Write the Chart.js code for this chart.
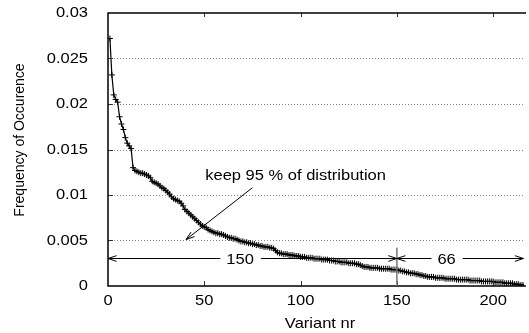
<!DOCTYPE html>
<html>
<head>
<meta charset="utf-8">
<script src="https://cdn.jsdelivr.net/npm/chart.js@4/dist/chart.umd.min.js"></script>
<style>
  html, body { margin: 0; padding: 0; background: #fff; }
  #wrap { width: 529px; height: 333px; }
</style>
</head>
<body>
<div id="wrap"><canvas id="c" width="529" height="333"></canvas></div>
<script>
// frequency of each variant, sorted (variant 1 .. 216)
const freq = [
  0.0272, 0.0232, 0.0210, 0.0205, 0.0202, 0.0186, 0.0178, 0.0172, 0.0163, 0.0157,
  0.0154, 0.0151, 0.0130, 0.0127, 0.0126, 0.0125, 0.0124, 0.0124, 0.0123, 0.0122,
  0.0121, 0.0119, 0.0115, 0.0114, 0.0113, 0.0112, 0.0110, 0.0108, 0.0107, 0.0105,
  0.0103, 0.0101, 0.0098, 0.0096, 0.0095, 0.0094, 0.0093, 0.0091, 0.0088, 0.0084,
  0.0082, 0.0080, 0.0078, 0.0076, 0.0074, 0.0072, 0.0070, 0.0068, 0.0066, 0.0065,
  0.0064, 0.0062, 0.0061, 0.0060, 0.0059, 0.0058, 0.0058, 0.0057, 0.0057, 0.0056,
  0.0055, 0.0054, 0.0053, 0.0053, 0.0052, 0.0052, 0.0051, 0.0050, 0.0049, 0.0049,
  0.0048, 0.0048, 0.0047, 0.0047, 0.0046, 0.0046, 0.0045, 0.0045, 0.0044, 0.0044,
  0.0043, 0.0043, 0.0043, 0.0042, 0.0042, 0.0041, 0.0039, 0.0037, 0.0036, 0.0036,
  0.0035, 0.0035, 0.0035, 0.0034, 0.0034, 0.0034, 0.0033, 0.0033, 0.0033, 0.0032,
  0.0032, 0.0032, 0.0031, 0.0031, 0.0031, 0.0031, 0.0030, 0.0030, 0.0030, 0.0030,
  0.0029, 0.0029, 0.0029, 0.0029, 0.0028, 0.0028, 0.0028, 0.0027, 0.0027, 0.0027,
  0.0026, 0.0026, 0.0026, 0.0026, 0.0025, 0.0025, 0.0025, 0.0025, 0.0024, 0.0024,
  0.0023, 0.0022, 0.0021, 0.0021, 0.0021, 0.0020, 0.0020, 0.0020, 0.0020, 0.0020,
  0.0019, 0.0019, 0.0019, 0.0019, 0.0019, 0.0019, 0.0018, 0.0018, 0.0018, 0.0018,
  0.0017, 0.0017, 0.0016, 0.0016, 0.0015, 0.0015, 0.0014, 0.0014, 0.0014, 0.0013,
  0.0013, 0.0012, 0.0012, 0.0011, 0.0011, 0.0010, 0.0010, 0.0010, 0.0010, 0.0009,
  0.0009, 0.0009, 0.0009, 0.0009, 0.0008, 0.0008, 0.0008, 0.0008, 0.0008, 0.0008,
  0.0007, 0.0007, 0.0007, 0.0007, 0.0007, 0.0007, 0.0007, 0.0006, 0.0006, 0.0006,
  0.0006, 0.0006, 0.0006, 0.0005, 0.0005, 0.0005, 0.0005, 0.0005, 0.0005, 0.0005,
  0.0004, 0.0004, 0.0004, 0.0004, 0.0004, 0.0003, 0.0003, 0.0003, 0.0003, 0.0003,
  0.0002, 0.0002, 0.0002, 0.0001, 0.0001, 0.0001
];
const variantNr = freq.map((_, i) => i + 1);

const xTicks = [0, 50, 100, 150, 200];
const xTickLabels = ['0', '50', '100', '150', '200'];
const yTicks = [0, 0.005, 0.01, 0.015, 0.02, 0.025, 0.03];
const yTickLabels = ['0', '0.005', '0.01', '0.015', '0.02', '0.025', '0.03'];

const cutoff = 150;      // variants kept
const rest = 66;         // variants dropped
const FONT = '15px "Liberation Sans", Arial, Helvetica, sans-serif';
const SX = 1.1;          // the original figure is stretched sideways a little

function arrowHead(ctx, x0, y0, x1, y1) {
  const ang = Math.atan2(y1 - y0, x1 - x0);
  const len = 9, spread = 0.32;
  ctx.beginPath();
  ctx.moveTo(x1 - len * Math.cos(ang - spread), y1 - len * Math.sin(ang - spread));
  ctx.lineTo(x1, y1);
  ctx.lineTo(x1 - len * Math.cos(ang + spread), y1 - len * Math.sin(ang + spread));
  ctx.stroke();
}

// horizontal text, widened like the source picture
function wideText(ctx, text, x, y, align) {
  ctx.save();
  ctx.translate(x, y);
  ctx.scale(SX, 1);
  ctx.textAlign = align;
  ctx.fillText(text, 0, 0);
  ctx.restore();
}

const overlay = {
  id: 'overlay',
  beforeDatasetsDraw(chart) {
    const { ctx, chartArea: a, scales: { y } } = chart;
    ctx.save();
    ctx.strokeStyle = '#8a8a8a';
    ctx.lineWidth = 1;
    ctx.setLineDash([1, 2]);
    yTicks.slice(1, -1).forEach(v => {
      const py = Math.round(y.getPixelForValue(v)) + 0.5;
      ctx.beginPath();
      ctx.moveTo(a.left, py);
      ctx.lineTo(a.right, py);
      ctx.stroke();
    });
    ctx.restore();
  },
  afterDraw(chart) {
    const { ctx, chartArea: a, scales: { x, y } } = chart;
    ctx.save();

    // inward tick marks
    ctx.strokeStyle = '#333';
    ctx.lineWidth = 1;
    yTicks.slice(1, -1).forEach(v => {
      const py = Math.round(y.getPixelForValue(v)) + 0.5;
      ctx.beginPath(); ctx.moveTo(a.left, py); ctx.lineTo(a.left + 5, py); ctx.stroke();
    });
    xTicks.slice(1).forEach(v => {
      const px = Math.round(x.getPixelForValue(v)) + 0.5;
      ctx.beginPath(); ctx.moveTo(px, a.bottom); ctx.lineTo(px, a.bottom - 5); ctx.stroke();
      ctx.beginPath(); ctx.moveTo(px, a.top); ctx.lineTo(px, a.top + 4); ctx.stroke();
    });

    // frame
    ctx.strokeStyle = '#000';
    ctx.lineWidth = 1.5;
    ctx.beginPath();
    ctx.moveTo(a.right + 2, a.top);
    ctx.lineTo(a.left, a.top);
    ctx.lineTo(a.left, a.bottom);
    ctx.lineTo(a.right + 2, a.bottom);
    ctx.stroke();

    // cut-off marker
    const xc = x.getPixelForValue(cutoff);
    ctx.strokeStyle = '#777';
    ctx.lineWidth = 1.5;
    ctx.beginPath();
    ctx.moveTo(xc, y.getPixelForValue(0));
    ctx.lineTo(xc, y.getPixelForValue(0.0042));
    ctx.stroke();

    ctx.font = FONT;
    ctx.fillStyle = '#000';
    ctx.strokeStyle = '#000';
    ctx.lineWidth = 1;
    ctx.textBaseline = 'middle';

    // tick labels and x title
    yTicks.forEach((v, i) => wideText(ctx, yTickLabels[i], a.left - 20, y.getPixelForValue(v), 'right'));
    xTicks.forEach((v, i) => wideText(ctx, xTickLabels[i], x.getPixelForValue(v), a.bottom + 15, 'center'));
    wideText(ctx, 'Variant nr', 320, a.bottom + 38, 'center');

    // "keep 95 %" label and arrow
    wideText(ctx, 'keep 95 % of distribution', x.getPixelForValue(50.5), y.getPixelForValue(0.0121), 'left');
    const ax0 = x.getPixelForValue(75), ay0 = y.getPixelForValue(0.0108);
    const ax1 = x.getPixelForValue(40.5), ay1 = y.getPixelForValue(0.0051);
    ctx.beginPath(); ctx.moveTo(ax0, ay0); ctx.lineTo(ax1, ay1); ctx.stroke();
    arrowHead(ctx, ax0, ay0, ax1, ay1);

    // span arrows with counts
    const yr = Math.round(y.getPixelForValue(0.0031)) + 0.5;
    function span(v0, v1, vText, label) {
      const p0 = x.getPixelForValue(v0), p1 = x.getPixelForValue(v1);
      const pt = x.getPixelForValue(vText);
      const w = ctx.measureText(label).width * SX;
      ctx.beginPath(); ctx.moveTo(p0, yr); ctx.lineTo(pt - w / 2 - 6, yr); ctx.stroke();
      ctx.beginPath(); ctx.moveTo(pt + w / 2 + 7, yr); ctx.lineTo(p1, yr); ctx.stroke();
      arrowHead(ctx, p1, yr, p0, yr);
      arrowHead(ctx, p0, yr, p1, yr);
      wideText(ctx, label, pt, yr + 1, 'center');
    }
    span(0, cutoff, 68.6, String(cutoff));
    span(cutoff, cutoff + rest - 0.3, 175.8, String(rest));

    // y axis title
    ctx.font = '14px "Liberation Sans", Arial, Helvetica, sans-serif';
    ctx.save();
    ctx.translate(20, 140);
    ctx.rotate(-Math.PI / 2);
    ctx.scale(1, SX);
    ctx.textAlign = 'center';
    ctx.fillText('Frequency of Occurence', 0, 0);
    ctx.restore();

    ctx.restore();
  }
};

new Chart(document.getElementById('c'), {
  type: 'line',
  data: {
    datasets: [{
      data: freq.map((f, i) => ({ x: variantNr[i], y: f })),
      borderColor: '#000',
      borderWidth: 1.2,
      pointStyle: 'cross',
      pointRadius: 3,
      pointBorderWidth: 1,
      pointBorderColor: '#000',
      tension: 0,
      fill: false
    }]
  },
  options: {
    responsive: false,
    animation: false,
    devicePixelRatio: 1,
    layout: { padding: { top: 13, left: 0, right: 0, bottom: 0 } },
    plugins: { legend: { display: false }, tooltip: { enabled: false } },
    scales: {
      x: {
        type: 'linear',
        min: 0,
        max: 216,
        afterBuildTicks: s => { s.ticks = xTicks.map(v => ({ value: v })); },
        afterFit: s => { s.height = 47; },
        grid: { display: false },
        border: { display: false },
        ticks: { display: false }
      },
      y: {
        min: 0,
        max: 0.03,
        afterBuildTicks: s => { s.ticks = yTicks.map(v => ({ value: v })); },
        afterFit: s => { s.width = 108; },
        grid: { display: false },
        border: { display: false },
        ticks: { display: false }
      }
    }
  },
  plugins: [overlay]
});
</script>
</body>
</html>
